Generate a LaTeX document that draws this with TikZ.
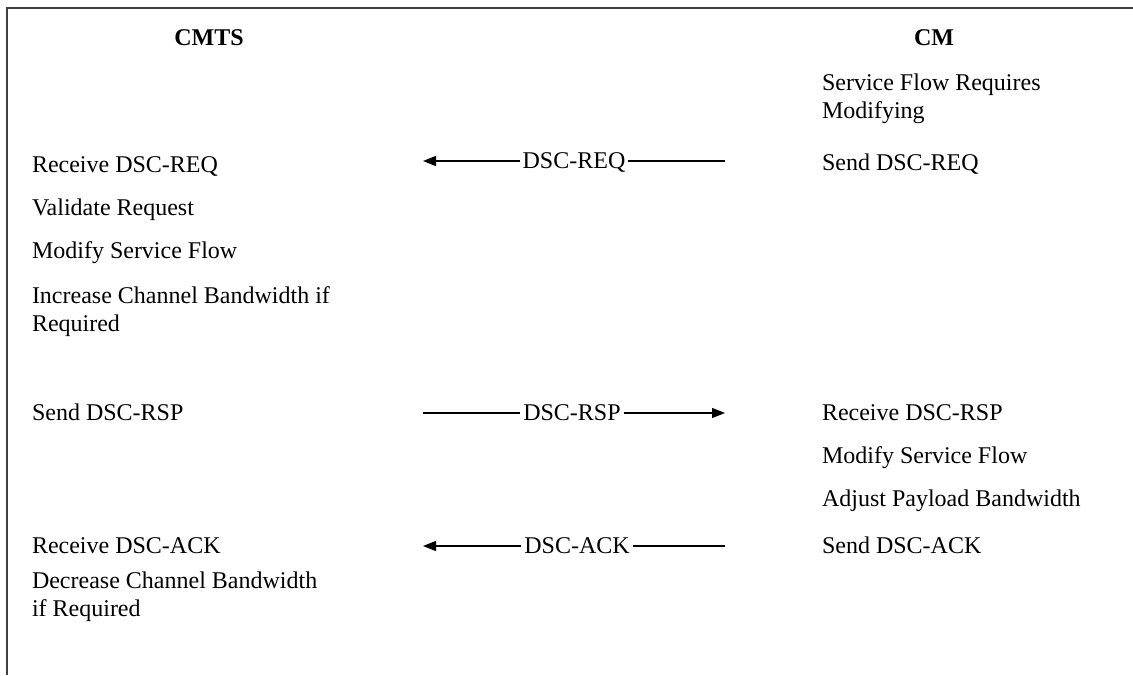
\documentclass[tikz,border=0pt]{standalone}
\usepackage{fontspec}
\setmainfont{Liberation Serif}
\usetikzlibrary{arrows.meta}

\begin{document}
\begin{tikzpicture}[x=1pt, y=-1pt,
  every node/.style={inner sep=0pt, outer sep=0pt},
  % multi-line items: the base anchor sits on the last line
  item/.style={anchor=base west, align=left, font=\fontsize{24}{28}\selectfont},
  hdr/.style={anchor=base, font=\fontsize{24}{28}\selectfont\bfseries},
  msg/.style={anchor=base, inner xsep=3pt, font=\fontsize{24}{28}\selectfont},
  frame/.style={draw=black!75, line width=2pt},
  flow/.style={line width=1.3pt},
  head/.style={flow, -{Triangle[length=13pt, width=10pt]}}]

  % page extent
  \useasboundingbox (0,0) rectangle (1133,675);

  % open frame along the top and left edges
  \draw[frame] (7,675) -- (7,8) -- (1133,8);

  % column headers
  \node[hdr] (cmts) at (209,45) {CMTS};
  \node[hdr] (cm)   at (934,45) {CM};

  % CMTS side
  \node[item] (c1) at (32,172) {Receive DSC-REQ};
  \node[item] (c2) at (32,215) {Validate Request};
  \node[item] (c3) at (32,258) {Modify Service Flow};
  \node[item] (c4) at (32,331) {Increase Channel Bandwidth if\\Required};
  \node[item] (c5) at (32,420) {Send DSC-RSP};
  \node[item] (c6) at (32,553) {Receive DSC-ACK};
  \node[item] (c7) at (32,616) {Decrease Channel Bandwidth\\if Required};

  % CM side
  \node[item] (m1) at (822,118) {Service Flow Requires\\Modifying};
  \node[item] (m2) at (822,170) {Send DSC-REQ};
  \node[item] (m3) at (822,420) {Receive DSC-RSP};
  \node[item] (m4) at (822,463) {Modify Service Flow};
  \node[item] (m5) at (822,506) {Adjust Payload Bandwidth};
  \node[item] (m6) at (822,553) {Send DSC-ACK};

  % DSC-REQ: CM to CMTS
  \coordinate (reqL) at (423,161);
  \coordinate (reqR) at (725,161);
  \node[msg] (req) at (574,168) {DSC-REQ};
  \draw[flow] (reqR) -- (req.east |- reqR);
  \draw[head] (req.west |- reqL) -- (reqL);

  % DSC-RSP: CMTS to CM
  \coordinate (rspL) at (423,413);
  \coordinate (rspR) at (725,413);
  \node[msg] (rsp) at (572,420) {DSC-RSP};
  \draw[flow] (rspL) -- (rsp.west |- rspL);
  \draw[head] (rsp.east |- rspR) -- (rspR);

  % DSC-ACK: CM to CMTS
  \coordinate (ackL) at (423,546);
  \coordinate (ackR) at (725,546);
  \node[msg] (ack) at (577,553) {DSC-ACK};
  \draw[flow] (ackR) -- (ack.east |- ackR);
  \draw[head] (ack.west |- ackL) -- (ackL);
\end{tikzpicture}
\end{document}
